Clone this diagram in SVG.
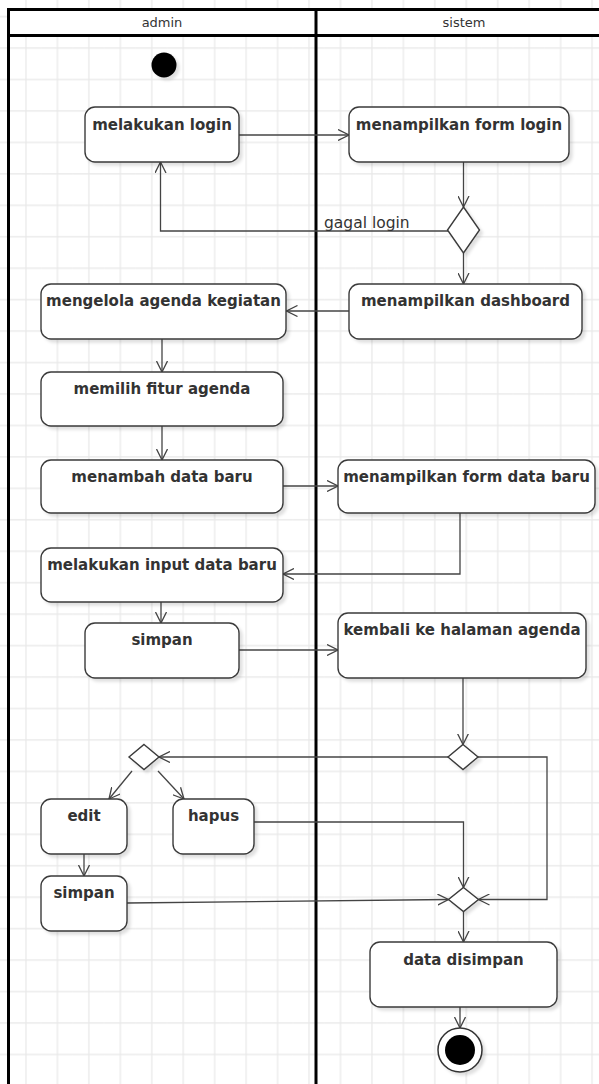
<svg xmlns="http://www.w3.org/2000/svg" width="599" height="1084" viewBox="0 0 599 1084">
<style>
.box{fill:#fff;stroke:#3a3a3a;stroke-width:1.4}
.dia{fill:#fff;stroke:#3a3a3a;stroke-width:1.4}
.lbl{font-family:"DejaVu Sans",sans-serif;font-size:15px;font-weight:bold;fill:#333;text-anchor:middle}
.hdr{font-family:"DejaVu Sans",sans-serif;font-size:13px;fill:#333;text-anchor:middle}
.elbl{font-family:"DejaVu Sans",sans-serif;font-size:15.5px;fill:#333}
.pool{stroke:#000;stroke-width:3;fill:none}
#edges path{fill:none;stroke:#444;stroke-width:1.3;marker-end:url(#arr)}
</style>
<defs>
<pattern id="grid" x="10.3" y="1" width="31.45" height="31.45" patternUnits="userSpaceOnUse">
<path d="M15.7,0 V31.45 M0,15.7 H31.45" stroke="#e8e8e8" stroke-width="1.2" fill="none"/>
</pattern>
<marker id="arr" viewBox="0 0 12 12" refX="11" refY="6" markerWidth="12" markerHeight="12" markerUnits="userSpaceOnUse" orient="auto">
<path d="M0,0.5 L11,6 L0,11.5" fill="none" stroke="#444" stroke-width="1.3"/>
</marker>
<filter id="sh" x="-20%" y="-20%" width="150%" height="150%">
<feDropShadow dx="3" dy="3" stdDeviation="1.5" flood-color="#000" flood-opacity="0.12"/>
</filter>
</defs>
<rect x="0" y="0" width="599" height="1084" fill="#fff"/>
<rect x="0" y="0" width="599" height="1084" fill="url(#grid)"/>
<g id="pool">
<rect x="8.5" y="9.5" width="620" height="26" fill="#fff"/>
<path class="pool" d="M8.5,1090 V9.5 H630 M8.5,35.5 H630 M316,9.5 V1090"/>
<text class="hdr" x="162" y="27">admin</text>
<text class="hdr" x="464" y="27">sistem</text>
</g>
<g id="edges">
<path d="M239,135 H349"/>
<path d="M463.5,162 V207"/>
<path d="M448,231 H160.5 V162"/>
<path d="M463.5,253 V284"/>
<path d="M349,311 H286.5"/>
<path d="M162,339 V372"/>
<path d="M162,426 V460"/>
<path d="M283,486 H338"/>
<path d="M460,513 V574 H283"/>
<path d="M161,602 V623"/>
<path d="M239,650 H338"/>
<path d="M463,678 V744.5"/>
<path d="M448,757 H159"/>
<path d="M132,771 L109,799"/>
<path d="M158,771 L184,799"/>
<path d="M254,822 H463.5 V887.5"/>
<path d="M84,854 V876"/>
<path d="M127,903 L448.5,899.5"/>
<path d="M478,757 H547 V899.5 H478.5"/>
<path d="M463.5,911.5 V942"/>
<path d="M460,1007 V1028"/>
<text class="elbl" x="324" y="228">gagal login</text>
</g>
<g id="start"><circle cx="164" cy="65" r="12.5" fill="#000" filter="url(#sh)"/></g>
<g id="n_login"><rect class="box" x="85" y="107" width="154" height="55" rx="10" filter="url(#sh)"/><text class="lbl" x="162" y="130">melakukan login</text></g>
<g id="n_formlogin"><rect class="box" x="349" y="107" width="220" height="55" rx="10" filter="url(#sh)"/><text class="lbl" x="459" y="130">menampilkan form login</text></g>
<g id="d_login"><polygon class="dia" points="463.5,207 479.5,230 463.5,253 447.5,230" filter="url(#sh)"/></g>
<g id="n_dashboard"><rect class="box" x="349" y="284" width="233" height="55" rx="10" filter="url(#sh)"/><text class="lbl" x="465.5" y="306">menampilkan dashboard</text></g>
<g id="n_mengelola"><rect class="box" x="41" y="284" width="245" height="55" rx="10" filter="url(#sh)"/><text class="lbl" x="163.5" y="306">mengelola agenda kegiatan</text></g>
<g id="n_memilih"><rect class="box" x="41" y="372" width="242" height="54" rx="10" filter="url(#sh)"/><text class="lbl" x="162" y="394">memilih fitur agenda</text></g>
<g id="n_menambah"><rect class="box" x="41" y="460" width="242" height="53" rx="10" filter="url(#sh)"/><text class="lbl" x="162" y="482">menambah data baru</text></g>
<g id="n_formdata"><rect class="box" x="338" y="460" width="257" height="53" rx="10" filter="url(#sh)"/><text class="lbl" x="466.5" y="482">menampilkan form data baru</text></g>
<g id="n_input"><rect class="box" x="41" y="548" width="242" height="54" rx="10" filter="url(#sh)"/><text class="lbl" x="162" y="570">melakukan input data baru</text></g>
<g id="n_simpan"><rect class="box" x="85" y="623" width="154" height="55" rx="10" filter="url(#sh)"/><text class="lbl" x="162" y="645">simpan</text></g>
<g id="n_kembali"><rect class="box" x="338" y="613" width="248" height="65" rx="10" filter="url(#sh)"/><text class="lbl" x="462" y="635">kembali ke halaman agenda</text></g>
<g id="d_kembali"><polygon class="dia" points="463,744.5 478,757 463,769.5 448,757" filter="url(#sh)"/></g>
<g id="d_pilih"><polygon class="dia" points="144,744.5 159,757 144,769.5 129,757" filter="url(#sh)"/></g>
<g id="n_edit"><rect class="box" x="41" y="799" width="86" height="55" rx="10" filter="url(#sh)"/><text class="lbl" x="84" y="821">edit</text></g>
<g id="n_hapus"><rect class="box" x="173" y="799" width="81" height="55" rx="10" filter="url(#sh)"/><text class="lbl" x="213.5" y="821">hapus</text></g>
<g id="n_simpan2"><rect class="box" x="41" y="876" width="86" height="55" rx="10" filter="url(#sh)"/><text class="lbl" x="84" y="898">simpan</text></g>
<g id="d_merge"><polygon class="dia" points="463.5,887.5 478.5,899.5 463.5,911.5 448.5,899.5" filter="url(#sh)"/></g>
<g id="n_disimpan"><rect class="box" x="370" y="942" width="187" height="65" rx="10" filter="url(#sh)"/><text class="lbl" x="463.5" y="965">data disimpan</text></g>
<g id="end"><circle cx="460" cy="1050" r="22" fill="#fff" stroke="#333" stroke-width="1.5" filter="url(#sh)"/><circle cx="460" cy="1050" r="15" fill="#000"/></g>
</svg>
